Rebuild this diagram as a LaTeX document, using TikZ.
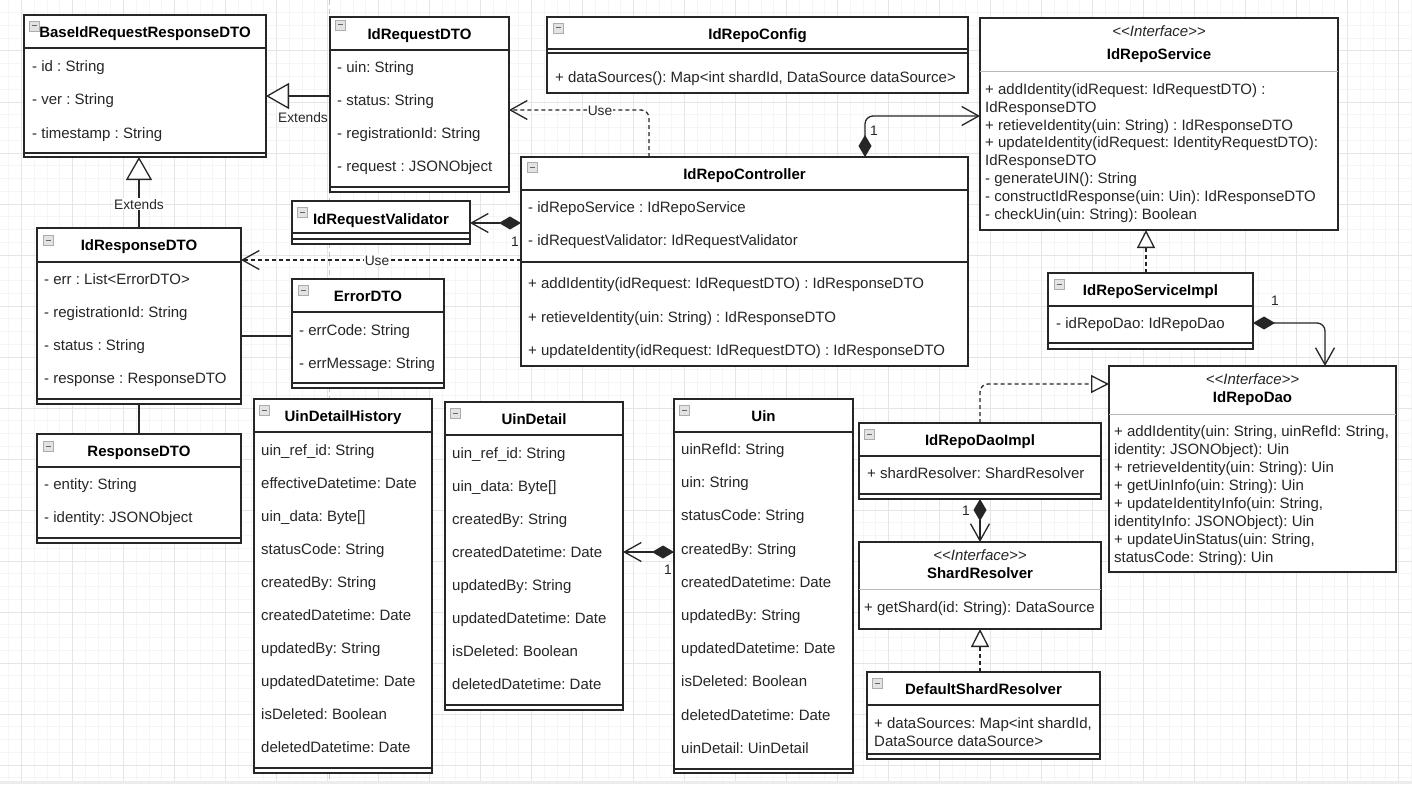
\documentclass[tikz,border=0pt]{standalone}
\usepackage{fontspec}
\setmainfont{Liberation Sans}
\usetikzlibrary{arrows.meta}
\frenchspacing
\newcommand\fsA{\fontsize{15}{18}\selectfont}
\newcommand\fsB{\fontsize{13.75}{16}\selectfont}
\newcommand\stypeI{<{}<Interface>{}>}
\newcommand{\cls}[5]{\pgfmathsetmacro\cw{#4-#2}\pgfmathsetmacro\ch{#5-#3}%
  \node[box, minimum width=\cw pt, minimum height=\ch pt, anchor=north west] (#1) at (#2,#3) {};}
\newcommand{\clsline}[2]{\draw[sepl] (#1.west |- 0,#2) -- (#1.east |- 0,#2);}
\newcommand{\ifcline}[2]{\draw[sepg] (#1.west |- 0,#2) -- (#1.east |- 0,#2);}
\newcommand{\clsicon}[2]{\draw[iconb] (#1,#2) rectangle ++(10,10);\draw[iconm] ({#1+2.5},{#2+5}) -- ++(5,0);}
\newcommand{\clsrows}[5]{\foreach \txt [count=\i] in {#5} {\node[attr] (#1-\i) at (#2,{#3+#4*(\i-1)}) {\txt};}}
\begin{document}
\begin{tikzpicture}[x=1pt,y=-1pt,
  box/.style={rectangle, draw=black!85, line width=1.6pt, fill=white, outer sep=0pt, inner sep=0pt},
  sepl/.style={draw=black!85, line width=1.3pt},
  sepg/.style={draw=gray!55, line width=1pt},
  iconb/.style={draw=gray!65, fill=gray!22, line width=0.8pt},
  iconm/.style={draw=black!60, line width=1pt},
  title/.style={font=\fsA\bfseries\frenchspacing, text=black, inner sep=0pt, text height=11pt, text depth=0pt, anchor=center},
  stereo/.style={font=\fsA\itshape, text=black!85, inner sep=0pt, text height=11pt, text depth=0pt, anchor=center},
  attr/.style={font=\fsA\frenchspacing, text=black!85, inner sep=0pt, text height=11pt, text depth=0pt, anchor=west},
  lbl/.style={font=\fsB, text=black!85, inner sep=1pt, fill=white, text height=10pt, text depth=0pt},
  mult/.style={font=\fsB, text=black!85, inner sep=0pt, text height=10pt, text depth=0pt},
  ln/.style={draw=black!85, line width=1.3pt},
  extends/.style={ln, -{Triangle[open, fill=white, length=23pt, width=26pt]}},
  real/.style={ln, dash pattern=on 4pt off 3pt, rounded corners=8pt, -{Triangle[open, fill=white, length=18pt, width=18pt]}},
  use/.style={ln, dash pattern=on 4pt off 3pt, rounded corners=8pt, -{Straight Barb[length=17pt, width=19pt]}},
  comp/.style={ln, rounded corners=8pt, {Diamond[length=22pt, width=13pt]}-{Straight Barb[length=17pt, width=19pt]}},
  assoc/.style={ln},
  gminor/.style={draw=gray!8, line width=1pt},
  gmajor/.style={draw=gray!20, line width=1pt},
  pbreak/.style={draw=gray!45, line width=1pt, dash pattern=on 5pt off 4pt}
]
\useasboundingbox (0,0) rectangle (1412,784);
\fill[white] (0,0) rectangle (1412,784);
% grid
\foreach \k in {-1,...,109} \draw[gminor] ({21.5+12.75*\k},0) -- ({21.5+12.75*\k},784);
\foreach \k in {0,...,62} \draw[gminor] (0,{12.75*\k}) -- (1412,{12.75*\k});
\foreach \k in {0,...,27} \draw[gmajor] ({21.5+51*\k},0) -- ({21.5+51*\k},784);
\foreach \k in {0,...,15} \draw[gmajor] (0,{51*\k}) -- (1412,{51*\k});
\draw[pbreak] (329,0) -- (329,784);
\fill[gray!15] (0,781) rectangle (1412,784);

% BaseIdRequestResponseDTO
\cls{base}{24}{15}{266}{157}
\clsline{base}{48}\clsline{base}{153}
\clsicon{29}{21}
\node[title] (base-t) at (145,32) {BaseIdRequestResponseDTO};
\clsrows{base}{32}{66}{33.3}{{- id : String},{- ver : String},{- timestamp : String}}

% IdRequestDTO
\cls{reqdto}{330}{17}{509}{192}
\clsline{reqdto}{50}\clsline{reqdto}{187}
\clsicon{335}{20}
\node[title] (reqdto-t) at (419.5,34) {IdRequestDTO};
\clsrows{reqdto}{337}{67}{33}{{- uin: String},{- status: String},{- registrationId: String},{- request : JSONObject}}

% IdRepoConfig
\cls{config}{547}{17}{968}{93}
\clsline{config}{49}\clsline{config}{53}
\clsicon{553}{23}
\node[title] (config-t) at (757.5,34) {IdRepoConfig};
\clsrows{config}{555}{77}{0}{{+ dataSources(): Map<int shardId, DataSource dataSource>}}

% IdRepoService
\cls{service}{980}{18}{1338}{230}
\ifcline{service}{71}
\node[stereo] (service-s) at (1159,31) {\stypeI};
\node[title] (service-t) at (1159,54) {IdRepoService};
\clsrows{service}{985}{89}{17.8}{{+ addIdentity(idRequest: IdRequestDTO) :},{IdResponseDTO},{+ retieveIdentity(uin: String) : IdResponseDTO},{+ updateIdentity(idRequest: IdentityRequestDTO):},{IdResponseDTO},{- generateUIN(): String},{- constructIdResponse(uin: Uin): IdResponseDTO},{- checkUin(uin: String): Boolean}}

% IdRepoController
\cls{ctrl}{521}{157}{968}{366}
\clsline{ctrl}{190}\clsline{ctrl}{262}
\clsicon{527}{162}
\node[title] (ctrl-t) at (744.5,174) {IdRepoController};
\clsrows{ctrla}{528}{207}{33}{{- idRepoService : IdRepoService},{- idRequestValidator: IdRequestValidator}}
\clsrows{ctrlm}{528}{283}{33.5}{{+ addIdentity(idRequest: IdRequestDTO) : IdResponseDTO},{+ retieveIdentity(uin: String) : IdResponseDTO},{+ updateIdentity(idRequest: IdRequestDTO) : IdResponseDTO}}

% IdRequestValidator
\cls{validator}{292}{201}{470}{244}
\clsline{validator}{233}\clsline{validator}{239}
\clsicon{297}{207}
\node[title] (validator-t) at (381,219) {IdRequestValidator};

% IdResponseDTO
\cls{respdto}{37}{228}{241}{404}
\clsline{respdto}{262}\clsline{respdto}{399}
\clsicon{43}{235}
\node[title] (respdto-t) at (139,245) {IdResponseDTO};
\clsrows{respdto}{44}{279}{33}{{- err : List<ErrorDTO>},{- registrationId: String},{- status : String},{- response : ResponseDTO}}

% ErrorDTO
\cls{errdto}{292}{279}{444}{388}
\clsline{errdto}{312}\clsline{errdto}{383}
\clsicon{298}{285}
\node[title] (errdto-t) at (368,296) {ErrorDTO};
\clsrows{errdto}{299}{330}{33}{{- errCode: String},{- errMessage: String}}

% ResponseDTO
\cls{response}{37}{434}{241}{543}
\clsline{response}{467}\clsline{response}{538}
\clsicon{43}{441}
\node[title] (response-t) at (139,451) {ResponseDTO};
\clsrows{response}{44}{484}{33}{{- entity: String},{- identity: JSONObject}}

% UinDetailHistory
\cls{udh}{254}{399}{432}{773}
\clsline{udh}{432}\clsline{udh}{768}
\clsicon{259}{405}
\node[title] (udh-t) at (343,416) {UinDetailHistory};
\clsrows{udh}{261}{450}{33}{{uin\_ref\_id: String},{effectiveDatetime: Date},{uin\_data: Byte[]},{statusCode: String},{createdBy: String},{createdDatetime: Date},{updatedBy: String},{updatedDatetime: Date},{isDeleted: Boolean},{deletedDatetime: Date}}

% UinDetail
\cls{ud}{445}{402}{623}{710}
\clsline{ud}{435}\clsline{ud}{705}
\clsicon{450}{408}
\node[title] (ud-t) at (534,419) {UinDetail};
\clsrows{ud}{452}{453}{33}{{uin\_ref\_id: String},{uin\_data: Byte[]},{createdBy: String},{createdDatetime: Date},{updatedBy: String},{updatedDatetime: Date},{isDeleted: Boolean},{deletedDatetime: Date}}

% Uin
\cls{uin}{674}{399}{853}{773}
\clsline{uin}{432}\clsline{uin}{769}
\clsicon{679}{405}
\node[title] (uin-t) at (763.5,416) {Uin};
\clsrows{uin}{681}{449}{33.2}{{uinRefId: String},{uin: String},{statusCode: String},{createdBy: String},{createdDatetime: Date},{updatedBy: String},{updatedDatetime: Date},{isDeleted: Boolean},{deletedDatetime: Date},{uinDetail: UinDetail}}

% IdRepoServiceImpl
\cls{simpl}{1048}{273}{1253}{349}
\clsline{simpl}{306}\clsline{simpl}{343}
\clsicon{1054}{279}
\node[title] (simpl-t) at (1150.5,290) {IdRepoServiceImpl};
\clsrows{simpl}{1056}{323}{0}{{- idRepoDao: IdRepoDao}}

% IdRepoDao
\cls{dao}{1109}{366}{1396}{572}
\ifcline{dao}{414}
\node[stereo] (dao-s) at (1252.5,379) {\stypeI};
\node[title] (dao-t) at (1252.5,397) {IdRepoDao};
\clsrows{dao}{1114}{431}{18}{{+ addIdentity(uin: String, uinRefId: String,},{identity: JSONObject): Uin},{+ retrieveIdentity(uin: String): Uin},{+ getUinInfo(uin: String): Uin},{+ updateIdentityInfo(uin: String,},{identityInfo: JSONObject): Uin},{+ updateUinStatus(uin: String,},{statusCode: String): Uin}}

% IdRepoDaoImpl
\cls{daoimpl}{859}{423}{1101}{499}
\clsline{daoimpl}{456}\clsline{daoimpl}{494}
\clsicon{864}{429}
\node[title] (daoimpl-t) at (980,440) {IdRepoDaoImpl};
\clsrows{daoimpl}{867}{473}{0}{{+ shardResolver: ShardResolver}}

% ShardResolver
\cls{shard}{859}{542}{1101}{629}
\ifcline{shard}{589}
\node[stereo] (shard-s) at (980,555) {\stypeI};
\node[title] (shard-t) at (980,573) {ShardResolver};
\clsrows{shard}{864}{607}{0}{{+ getShard(id: String): DataSource}}

% DefaultShardResolver
\cls{dsr}{867}{672}{1100}{759}
\clsline{dsr}{705}\clsline{dsr}{754}
\clsicon{872}{678}
\node[title] (dsr-t) at (983.5,689) {DefaultShardResolver};
\clsrows{dsr}{874}{723}{17.5}{{+ dataSources: Map<int shardId,},{DataSource dataSource>}}

% connectors
\draw[extends] (reqdto.west |- 0,96) -- (base.east |- 0,96);
\node[mult] (ext1) at (303,117) {Extends};
\draw[extends] (respdto.north) -- (respdto.north |- base.south);
\node[lbl] (ext2) at (139,204) {Extends};

\draw[use] (ctrl.north -| 649,0) |- (reqdto.east |- 0,110);
\node[lbl] (use1) at (600,110) {Use};

\draw[comp] (ctrl.north -| 865,0) |- (service.west |- 0,116);
\node[mult] (m1) at (874,130) {1};

\draw[comp] (ctrl.west |- 0,223) -- (validator.east |- 0,223);
\node[mult] (m2) at (515,241) {1};

\draw[use] (ctrl.west |- 0,260) -- (respdto.east |- 0,260);
\node[lbl] (use2) at (377,260) {Use};

\draw[assoc] (respdto.east |- 0,336) -- (errdto.west |- 0,336);
\draw[assoc] (respdto.south) -- (response.north);

\draw[comp] (uin.west |- 0,552) -- (ud.east |- 0,552);
\node[mult] (m3) at (668,569) {1};

\draw[real] (simpl.north -| 1146,0) -- (service.south -| 1146,0);

\draw[comp] (simpl.east |- 0,323) -| (dao.north -| 1325,0);
\node[mult] (m4) at (1275,300) {1};

\draw[real] (daoimpl.north) |- (dao.west |- 0,384);

\draw[comp] (daoimpl.south) -- (shard.north);
\node[mult] (m5) at (966,510) {1};

\draw[real] (dsr.north -| 980,0) -- (shard.south);
\end{tikzpicture}
\end{document}
